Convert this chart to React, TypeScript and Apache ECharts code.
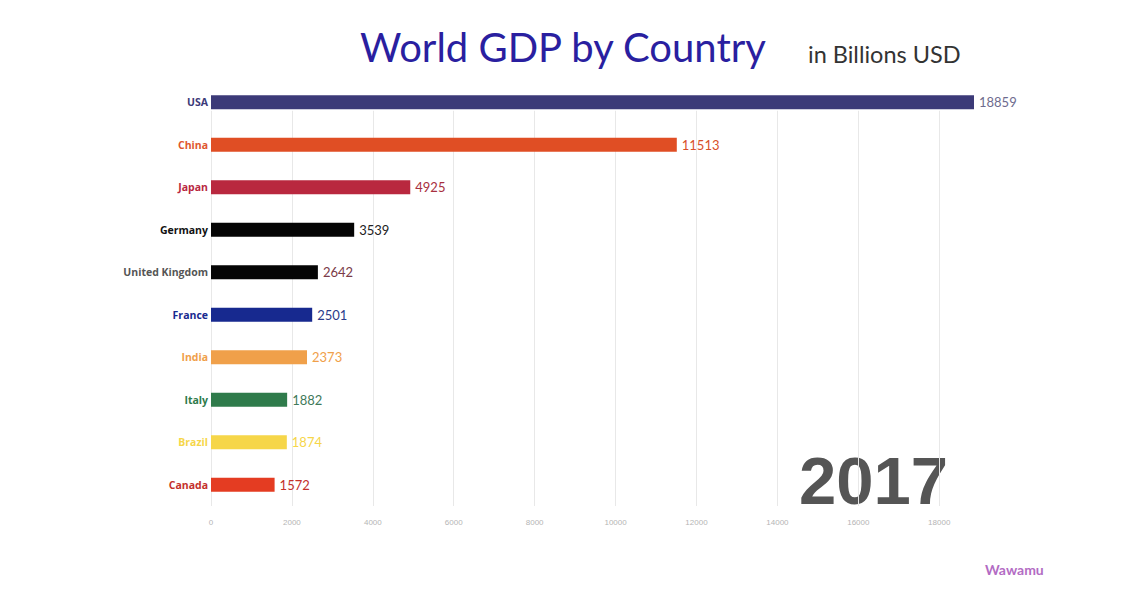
import React, { useEffect, useRef } from "react";
import * as echarts from "echarts";

const countries = ["USA", "China", "Japan", "Germany", "United Kingdom", "France", "India", "Italy", "Brazil", "Canada"];
const gdp = [18859, 11513, 4925, 3539, 2642, 2501, 2373, 1882, 1874, 1572];
const barColors = ["#3c3a78", "#e04e24", "#b9283f", "#050505", "#050505", "#17298f", "#f0a04a", "#2f7b4b", "#f6d649", "#e43c22"];
const nameColors = ["#3c3a78", "#e0562e", "#b9283f", "#111111", "#555555", "#17298f", "#f0a04a", "#2f7b4b", "#f6d649", "#c4302a"];
const valueColors = ["#6e6b8e", "#d8502a", "#a83040", "#222222", "#7a3a48", "#2b3a8a", "#f0a04a", "#3f7a5a", "#f6d649", "#c4302a"];
const xTicks = [0, 2000, 4000, 6000, 8000, 10000, 12000, 14000, 16000, 18000];
const year = "2017";

export default function App() {
  const ref = useRef<HTMLDivElement>(null);
  useEffect(() => {
    if (!ref.current) return;
    const chart = echarts.init(ref.current, null, { renderer: "svg" });
    chart.setOption({
      animation: false,
      backgroundColor: "#ffffff",
      grid: { left: 203, right: 143, top: 73, bottom: 75, containLabel: false },
      xAxis: {
        type: "value",
        min: 0,
        max: "dataMax",
        interval: 2000,
        axisLine: { show: false },
        axisTick: { show: false },
        splitLine: { show: false },
        axisLabel: {
          color: "#b5b5b5",
          fontSize: 8,
          fontFamily: "Liberation Sans Narrow, Liberation Sans, sans-serif",
          margin: 12,
          formatter: (v: number) => (xTicks.includes(v) ? String(v) : ""),
          showMaxLabel: false,
        },
      },
      yAxis: [
        {
          type: "category",
          data: countries,
          inverse: true,
          axisLine: { show: false },
          axisTick: { show: false },
          axisLabel: {
            fontSize: 10.5,
            fontWeight: "bold",
            fontFamily: "Open Sans, sans-serif",
            margin: 3,
            color: (_v: string, i: number) => nameColors[i],
          },
        },
        { type: "value", min: 0, max: 1, inverse: true, show: false },
      ],
      series: [
        {
          type: "line",
          xAxisIndex: 0,
          yAxisIndex: 1,
          data: [],
          z: 1,
          silent: true,
          markLine: {
            silent: true,
            z: 1,
            symbol: "none",
            label: { show: false },
            lineStyle: { color: "#e8e8e8", type: "solid", width: 1 },
            data: xTicks.map((v) => [{ coord: [v, 0.07] }, { coord: [v, 1] }]),
          },
        },
        {
          type: "bar",
          yAxisIndex: 0,
          barWidth: 14,
          z: 3,
          data: gdp.map((v, i) => ({
            value: v,
            itemStyle: { color: barColors[i] },
            label: { color: valueColors[i] },
          })),
          label: {
            show: true,
            position: "right",
            distance: 5,
            fontSize: 13,
            fontFamily: "Lato, sans-serif",
          },
        },
      ],
      graphic: [
        {
          type: "text",
          left: 352,
          top: 19,
          style: { text: "World GDP by Country", fontSize: 40, fontFamily: "Lato, sans-serif", fill: "#2a1fa0" },
        },
        {
          type: "text",
          left: 800,
          top: 34,
          style: { text: "in Billions USD", fontSize: 23.5, fontFamily: "Lato, sans-serif", fill: "#333333" },
        },
        {
          type: "text",
          left: 791,
          top: 439,
          style: { text: year, fontSize: 67, fontWeight: "bold", fontFamily: "Liberation Sans, Arial, sans-serif", fill: "#555555" },
        },
        {
          type: "text",
          left: 977,
          top: 554,
          style: { text: "Wawamu", fontSize: 14, fontWeight: "bold", fontFamily: "Lato, sans-serif", fill: "#b36cc4" },
        },
      ],
    });
    return () => chart.dispose();
  }, []);
  return <div ref={ref} style={{ width: 1109, height: 573 }} />;
}
